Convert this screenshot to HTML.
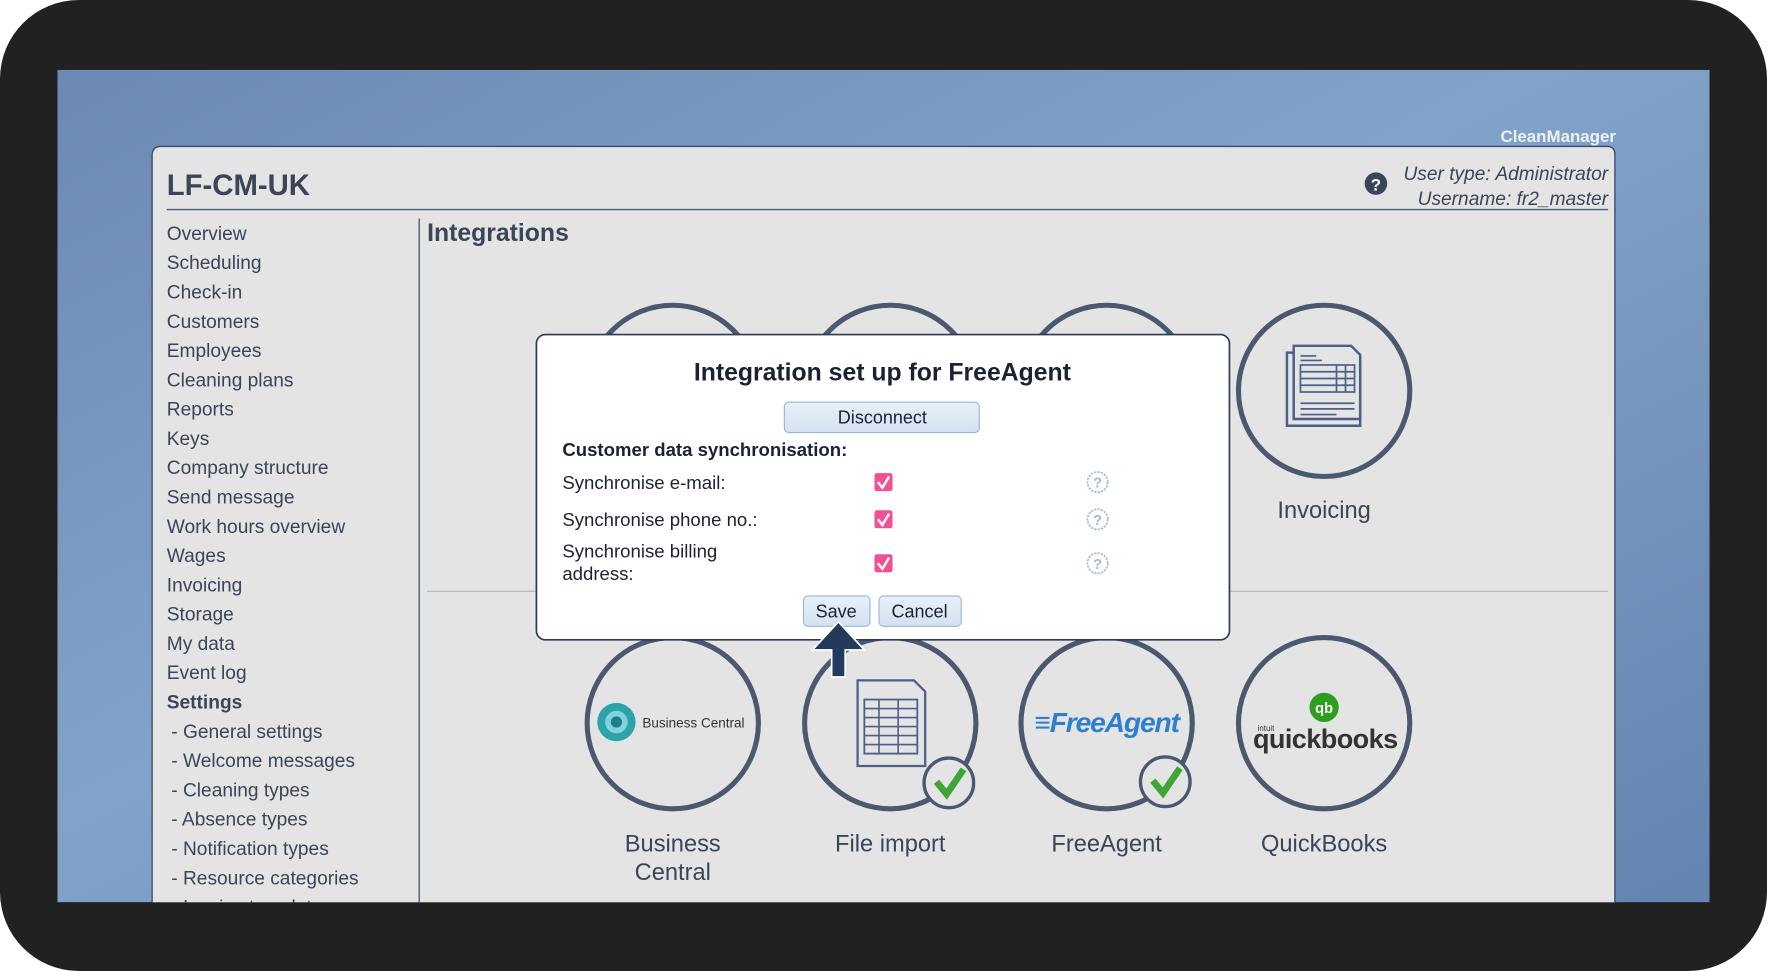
<!DOCTYPE html>
<html><head><meta charset="utf-8"><style>
html,body{margin:0;padding:0;background:#fff;overflow:hidden}
svg{display:block}
text{font-family:"Liberation Sans",Arial,sans-serif}
</style></head><body>
<svg width="1767" height="971" viewBox="0 0 1568 862" preserveAspectRatio="none" xmlns="http://www.w3.org/2000/svg">
<defs>
<linearGradient id="bg" x1="0" y1="0" x2="1" y2="1">
<stop offset="0" stop-color="#6b89b3"/><stop offset="0.45" stop-color="#82a3c9"/><stop offset="1" stop-color="#6583b0"/>
</linearGradient>
<linearGradient id="btn" x1="0" y1="0" x2="0" y2="1">
<stop offset="0" stop-color="#e8f0f9"/><stop offset="1" stop-color="#d3e1f2"/>
</linearGradient>
<clipPath id="scr"><rect x="51" y="62" width="1466" height="739"/></clipPath>
</defs>
<rect x="0" y="0" width="1568" height="862" rx="70" fill="#222122"/>
<g clip-path="url(#scr)">
<rect x="51" y="62" width="1466" height="739" fill="url(#bg)"/>
<text x="1434" y="126" text-anchor="end" font-size="15" font-weight="bold" fill="#eef2f8">CleanManager</text>
<path d="M135 900 V138 Q135 130 143 130 H1426 Q1433 130 1433 137 V900 Z" fill="#e4e4e4" stroke="#3d4c66" stroke-width="1.2"/>
<text x="148" y="173" font-size="26" font-weight="bold" fill="#3a4558">LF-CM-UK</text>
<line x1="148" y1="186" x2="1427" y2="186" stroke="#4a5870" stroke-width="1.2"/>
<circle cx="1221" cy="163" r="10" fill="#3a4558"/>
<text x="1221" y="169" text-anchor="middle" font-size="15" font-weight="bold" fill="#fff">?</text>
<text x="1427" y="160" text-anchor="end" font-size="17" font-style="italic" fill="#3a4558">User type: Administrator</text>
<text x="1427" y="182" text-anchor="end" font-size="17" font-style="italic" fill="#3a4558">Username: fr2_master</text>
<line x1="372" y1="194" x2="372" y2="810" stroke="#4a5870" stroke-width="1.2"/>
<g font-size="17" fill="#3a4558">
<text x="148" y="213">Overview</text><text x="148" y="239">Scheduling</text><text x="148" y="265">Check-in</text>
<text x="148" y="291">Customers</text><text x="148" y="317">Employees</text><text x="148" y="343">Cleaning plans</text>
<text x="148" y="369">Reports</text><text x="148" y="395">Keys</text><text x="148" y="421">Company structure</text>
<text x="148" y="447">Send message</text><text x="148" y="473">Work hours overview</text><text x="148" y="499">Wages</text>
<text x="148" y="525">Invoicing</text><text x="148" y="551">Storage</text><text x="148" y="577">My data</text>
<text x="148" y="603">Event log</text><text x="148" y="629" font-weight="bold">Settings</text>
<text x="152" y="655">- General settings</text><text x="152" y="681">- Welcome messages</text>
<text x="152" y="707">- Cleaning types</text><text x="152" y="733">- Absence types</text>
<text x="152" y="759">- Notification types</text><text x="152" y="785">- Resource categories</text>
<text x="152" y="811">- Invoice templates</text>
</g>
<text x="379" y="214" font-size="22" font-weight="bold" fill="#3a4558">Integrations</text>
<line x1="379" y1="525" x2="1427" y2="525" stroke="#b9b9b9" stroke-width="1.2"/>
<g fill="none" stroke="#4a5870" stroke-width="4.5">
<circle cx="597" cy="347" r="76"/><circle cx="790" cy="347" r="76"/><circle cx="982" cy="347" r="76"/><circle cx="1175" cy="347" r="76"/>
<circle cx="597" cy="642" r="76"/><circle cx="790" cy="642" r="76"/><circle cx="982" cy="642" r="76"/><circle cx="1175" cy="642" r="76"/>
</g>
<!-- invoicing icon -->
<g fill="none" stroke="#4a6088" stroke-width="2.2">
<path d="M1142 313 H1199 L1207 321 V378 H1142 Z" fill="#e4e4e4"/>
<path d="M1148 307 H1199 L1207 315 V372 H1148 Z" fill="#e4e4e4"/>
<rect x="1154" y="324" width="48" height="24" stroke-width="1.5"/>
<path d="M1154 330H1202M1154 336H1202M1154 342H1202M1186 324V348M1194 324V348M1154 316H1168M1154 320H1173M1154 358H1202M1154 363H1202M1154 368H1186" stroke-width="1.5"/>
</g>
<g font-size="21" fill="#3a4558" text-anchor="middle">
<text x="1175" y="460">Invoicing</text>
<text x="597" y="756">Business</text><text x="597" y="781">Central</text>
<text x="790" y="756">File import</text><text x="982" y="756">FreeAgent</text><text x="1175" y="756">QuickBooks</text>
</g>
<!-- business central -->
<circle cx="547" cy="641" r="17" fill="#2ba3a8"/><circle cx="547" cy="641" r="10" fill="#7fd3dc"/><circle cx="547" cy="641" r="5" fill="#1f7d86"/>
<text x="570" y="646" font-size="12" fill="#333">Business Central</text>
<!-- file import -->
<g fill="none" stroke="#4a6088" stroke-width="2">
<path d="M761 604 H811 L821 614 V680 H761 Z" fill="#e4e4e4"/>
<rect x="767" y="621" width="47" height="48" stroke-width="1.6"/>
<path d="M767 629H814M767 637H814M767 645H814M767 653H814M767 661H814M780 621V669M797 621V669" stroke-width="1.4"/>
</g>
<text x="982" y="650" text-anchor="middle" font-size="25" font-weight="bold" font-style="italic" fill="#2f7fd0" letter-spacing="-1">≡FreeAgent</text>
<circle cx="1175" cy="628" r="13" fill="#2ca01c"/>
<text x="1175" y="633" text-anchor="middle" font-size="13" font-weight="bold" fill="#fff">qb</text>
<text x="1116" y="649" font-size="7" fill="#333">intuit</text>
<text x="1176" y="664" text-anchor="middle" font-size="24" font-weight="bold" fill="#333" letter-spacing="-0.5">quickbooks</text>
<g>
<circle cx="842" cy="695" r="22" fill="#e4e4e4" stroke="#4a5870" stroke-width="3"/>
<path d="M831 694 L840 705 L855 683" fill="none" stroke="#3fa535" stroke-width="6"/>
<circle cx="1034" cy="694" r="22" fill="#e4e4e4" stroke="#4a5870" stroke-width="3"/>
<path d="M1023 693 L1032 704 L1047 682" fill="none" stroke="#3fa535" stroke-width="6"/>
</g>
<!-- modal -->
<rect x="476" y="297" width="615" height="271" rx="8" fill="#fff" stroke="#2c3a55" stroke-width="1.5"/>
<text x="783" y="338" text-anchor="middle" font-size="22" font-weight="bold" fill="#1a2233">Integration set up for FreeAgent</text>
<rect x="696" y="357" width="173" height="27" rx="4" fill="url(#btn)" stroke="#9bb5d6"/>
<text x="783" y="376" text-anchor="middle" font-size="16" fill="#1a2233">Disconnect</text>
<text x="499" y="405" font-size="16.5" font-weight="bold" fill="#1a2233">Customer data synchronisation:</text>
<g font-size="16.5" fill="#1a2233">
<text x="499" y="434">Synchronise e-mail:</text>
<text x="499" y="467">Synchronise phone no.:</text>
<text x="499" y="495">Synchronise billing</text>
<text x="499" y="515">address:</text>
</g>
<g>
<rect x="776" y="420" width="16" height="16" rx="2" fill="#f25096"/><path d="M779 428 L783 433 L789 423" fill="none" stroke="#fff" stroke-width="2.2"/>
<rect x="776" y="453" width="16" height="16" rx="2" fill="#f25096"/><path d="M779 461 L783 466 L789 456" fill="none" stroke="#fff" stroke-width="2.2"/>
<rect x="776" y="492" width="16" height="16" rx="2" fill="#f25096"/><path d="M779 500 L783 505 L789 495" fill="none" stroke="#fff" stroke-width="2.2"/>
</g>
<g fill="none" stroke="#9fb8e0" stroke-width="1.5" stroke-dasharray="2 1">
<circle cx="974" cy="428" r="9"/><circle cx="974" cy="461" r="9"/><circle cx="974" cy="500" r="9"/>
</g>
<g font-size="13" fill="#9fb8e0" text-anchor="middle" font-weight="bold">
<text x="974" y="433">?</text><text x="974" y="466">?</text><text x="974" y="505">?</text>
</g>
<rect x="713" y="529" width="59" height="27" rx="4" fill="url(#btn)" stroke="#9bb5d6"/>
<text x="742" y="548" text-anchor="middle" font-size="16" fill="#1a2233">Save</text>
<rect x="780" y="529" width="73" height="27" rx="4" fill="url(#btn)" stroke="#9bb5d6"/>
<text x="816" y="548" text-anchor="middle" font-size="16" fill="#1a2233">Cancel</text>
<path d="M744 552 L767 577 L750 577 L750 601 L738 601 L738 577 L721 577 Z" fill="#233a5c" stroke="#fff" stroke-width="1.5"/>
</g>
</svg>
</body></html>
